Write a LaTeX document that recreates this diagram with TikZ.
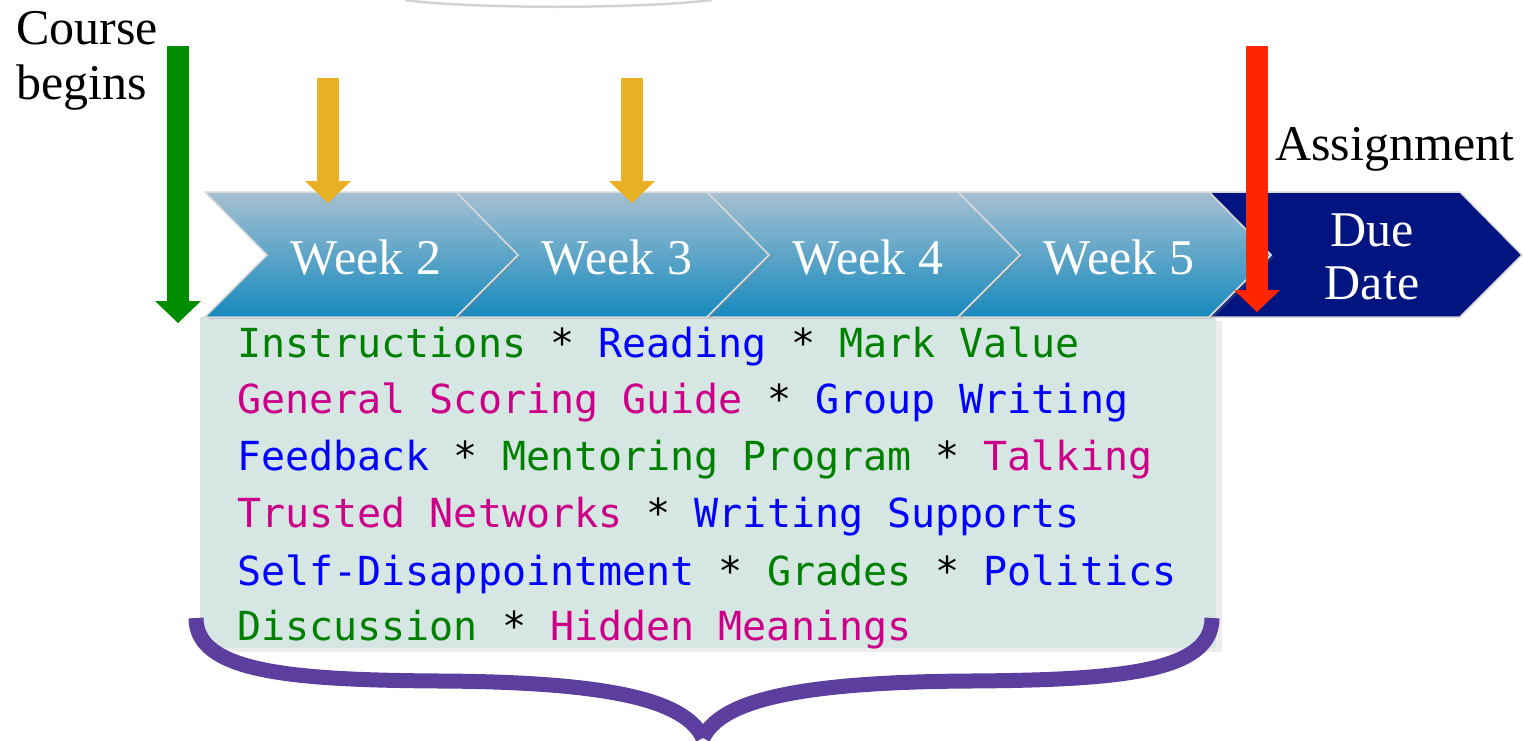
\documentclass[tikz,border=0pt]{standalone}
\usepackage{fontspec}
\setmainfont{Liberation Serif}
\newfontfamily\listfont{DejaVu Sans Mono}
\usepackage{tikz}
\usetikzlibrary{arrows.meta,shadows}
\definecolor{wktop}{RGB}{166,192,210}
\definecolor{wkbot}{RGB}{22,138,190}
\definecolor{duenavy}{RGB}{2,20,128}
\definecolor{boxteal}{RGB}{214,230,226}
\definecolor{bracepurple}{RGB}{91,62,158}
\definecolor{startgreen}{RGB}{0,140,0}
\definecolor{midorange}{RGB}{232,176,37}
\definecolor{duered}{RGB}{255,38,0}
\definecolor{tgreen}{RGB}{0,128,0}
\definecolor{tblue}{RGB}{0,0,255}
\definecolor{tmag}{RGB}{204,0,136}
\newcommand{\tg}[1]{\textcolor{tgreen}{#1}}
\newcommand{\tb}[1]{\textcolor{tblue}{#1}}
\newcommand{\tm}[1]{\textcolor{tmag}{#1}}

\begin{document}
\begin{tikzpicture}[
  x=1pt,y=-1pt,
  chev/.style={draw=gray!30,line width=1.5pt,top color=wktop,bottom color=wkbot,
    drop shadow={shadow xshift=3pt,shadow yshift=-2pt,opacity=.25}},
  duechev/.style={draw=gray!30,line width=1.5pt,fill=duenavy},
  wktext/.style={text=white,font=\fontsize{50}{53}\selectfont},
  note/.style={font=\fontsize{50}{55}\selectfont,align=left,inner sep=0pt},
  item/.style={anchor=base west,inner sep=0pt,font=\listfont\fontsize{40}{40}\selectfont},
  tickarrow/.style={line width=22pt,-{Triangle[length=22pt,width=46pt,line width=0pt]}},
  curly/.style={draw=bracepurple,line width=15pt}
]
  \useasboundingbox (0,0) rectangle (1523,740);
  \draw[gray!35,line width=2.5pt] (405,0) .. controls (470,9) and (640,9) .. (712,0);

  % list of topics
  \fill[boxteal,drop shadow={shadow xshift=6pt,shadow yshift=-4pt,opacity=.15}]
    (200,317) rectangle (1216,648);
  \node[item] (l1) at (237,357) {\tg{Instructions} * \tb{Reading} * \tg{Mark Value}};
  \node[item] (l2) at (237,413) {\tm{General Scoring Guide} * \tb{Group Writing}};
  \node[item] (l3) at (237,470) {\tb{Feedback} * \tg{Mentoring Program} * \tm{Talking}};
  \node[item] (l4) at (237,527) {\tm{Trusted Networks} * \tb{Writing Supports}};
  \node[item] (l5) at (237,585) {\tb{Self-Disappointment} * \tg{Grades} * \tb{Politics}};
  \node[item] (l6) at (237,640) {\tg{Discussion} * \tm{Hidden Meanings}};

  % timeline
  \path[duechev] (1209,192) -- (1460,192) -- (1522,255) -- (1460,317) -- (1209,317) -- (1271,255) -- cycle;
  \foreach \i/\lbl in {3/Week 5,2/Week 4,1/Week 3,0/Week 2}{
    \pgfmathsetmacro\xl{205+251*\i}
    \path[chev] (\xl,192) -- ++(251,0) -- ++(62,63) -- ++(-62,62) -- ++(-251,0) -- ++(62,-62) -- cycle;
    \node[wktext,anchor=base] (wk\i) at (\xl+161,274) {\lbl};
  }
  \node[wktext,align=center] (due) at (1372,257) {Due\\Date};

  \draw[curly] (196,618) .. controls (196,672) and (290,680) .. (440,681)
    .. controls (610,682) and (685,700) .. (703,738);
  \draw[curly] (1212,618) .. controls (1212,672) and (1120,680) .. (970,681)
    .. controls (800,682) and (721,700) .. (703,738);

  % labels and markers
  \node[note,anchor=north west] (start) at (16,11) {Course\\begins};
  \node[note,anchor=base west] (assign) at (1275,160) {Assignment};

  \coordinate (gs) at (178,46);   \coordinate (ge) at (178,323);
  \coordinate (os1) at (328,78);  \coordinate (oe1) at (328,203);
  \coordinate (os2) at (632,78);  \coordinate (oe2) at (632,203);
  \coordinate (rs) at (1257,46);  \coordinate (re) at (1257,312);
  \draw[tickarrow,startgreen] (gs) -- (ge);
  \draw[tickarrow,midorange] (os1) -- (oe1);
  \draw[tickarrow,midorange] (os2) -- (oe2);
  \draw[tickarrow,duered] (rs) -- (re);
\end{tikzpicture}
\end{document}
